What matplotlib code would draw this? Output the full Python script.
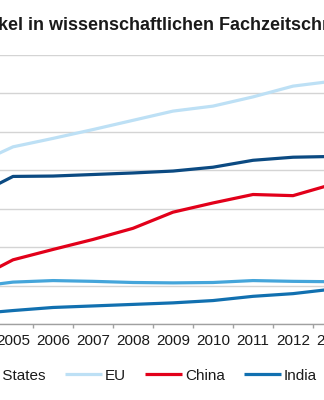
import matplotlib
matplotlib.use("Agg")
import matplotlib.pyplot as plt
from matplotlib.ticker import FixedLocator, MultipleLocator

plt.rcParams["font.family"] = ["Liberation Sans", "DejaVu Sans"]

# Artikel pro Jahr (in Tausend)
years = ["2004", "2005", "2006", "2007", "2008", "2009", "2010", "2011", "2012", "2013"]
usa = [331, 384, 385, 389, 393, 398, 408, 426, 434, 436]
eu = [413, 461, 483, 506, 530, 554, 567, 591, 619, 632]
china = [113, 167, 194, 220, 249, 291, 315, 337, 334, 364]
india = [26, 35, 43, 47, 51, 55, 61, 72, 79, 91]
japan = [96, 109, 113, 111, 108, 107, 108, 113, 111, 110]

series = [
    ("United States", usa, "#0b4a82"),
    ("EU", eu, "#bde0f5"),
    ("China", china, "#e2001a"),
    ("India", india, "#1170b0"),
    ("Japan", japan, "#45a5da"),
]

fig = plt.figure(figsize=(3.24, 4.0), dpi=100)
# plot area is wider than the figure, only the middle part is shown
ax = fig.add_axes([-47 / 324, 76 / 400, 400 / 324, 269 / 400])

x = list(range(len(years)))
# draw order: background lines first
for name, vals, col in [series[4], series[3], series[2], series[0], series[1]]:
    ax.plot(x, vals, color=col, lw=2.3, solid_capstyle="butt", label=name)

ax.set_xlim(-0.5, len(years) - 0.5)
ax.set_ylim(0, 700)
ax.yaxis.set_major_locator(MultipleLocator(100))
ax.grid(axis="y", color="#d4d4d4", lw=1.0)
ax.set_axisbelow(True)

ax.set_xticks(x)
ax.set_xticklabels(years)
ax.xaxis.set_minor_locator(FixedLocator([i + 0.5 for i in range(-1, len(years))]))
ax.tick_params(axis="x", which="major", length=0, pad=7, labelsize=11, colors="#1a1a1a")
ax.tick_params(axis="x", which="minor", length=3, width=1, color="#a0a0a0")
ax.tick_params(axis="y", length=0, labelleft=False)

for s in ["left", "right", "top"]:
    ax.spines[s].set_visible(False)
ax.spines["bottom"].set_color("#a0a0a0")
ax.spines["bottom"].set_linewidth(1.0)

fig.text(0.514, 1 - 25 / 400, "Artikel in wissenschaftlichen Fachzeitschriften",
         ha="center", va="center", fontsize=13, fontweight="bold", color="#1a1a1a")

handles, labels = ax.get_legend_handles_labels()
order = [labels.index(s[0]) for s in series]
fig.legend([handles[i] for i in order], [labels[i] for i in order],
           loc="center", bbox_to_anchor=(0.512, 1 - 375.5 / 400), ncol=5,
           frameon=False, fontsize=11, handlelength=2.42, handletextpad=0.2,
           columnspacing=1.25, labelcolor="#1a1a1a")

fig.savefig("out.png", dpi=100)
